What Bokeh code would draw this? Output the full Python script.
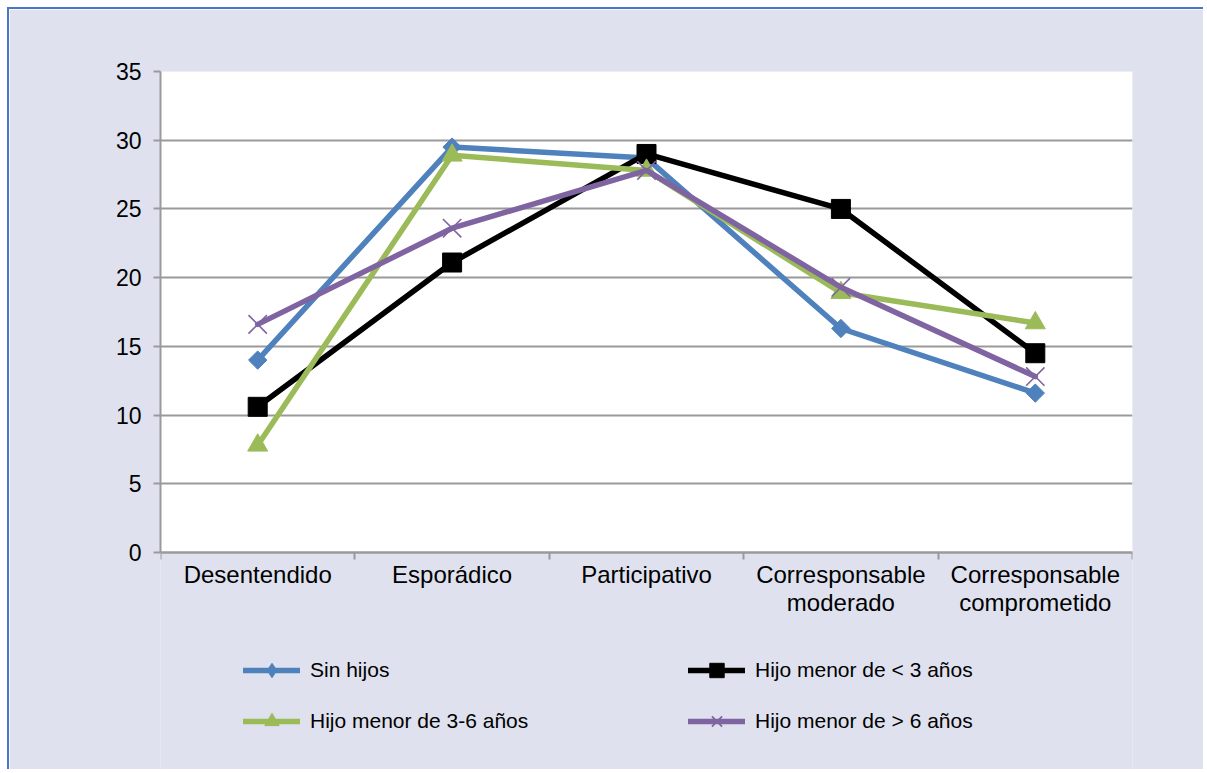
import math
from bokeh.plotting import figure
from bokeh.models import FixedTicker, Legend, LegendItem, Range1d, BoxAnnotation
from bokeh.embed import file_html
from bokeh.resources import INLINE

categories = ["Desentendido", "Esporádico", "Participativo",
              "Corresponsable\nmoderado", "Corresponsable\ncomprometido"]
sin_hijos = [14.0, 29.5, 28.7, 16.3, 11.6]
menor_3 = [10.6, 21.1, 29.0, 25.0, 14.5]
menor_3_6 = [7.8, 28.9, 27.8, 18.9, 16.7]
mayor_6 = [16.6, 23.6, 27.8, 19.3, 12.8]
series_names = ["Sin hijos", "Hijo menor de < 3 años",
                "Hijo menor de 3-6 años", "Hijo menor de > 6 años"]
y_ticks = [0, 5, 10, 15, 20, 25, 30, 35]

FONT = "Liberation Sans"
GREY = "#9a9a9a"
BG = "#dfe2ee"
EDGE = "#4a76c6"

n = len(categories)
x = [i + 0.5 for i in range(n)]
bounds = list(range(n + 1))
y_max = y_ticks[-1]

# frame runs from the top of the plot area down to the bottom of the canvas,
# so that the category labels and the legend sit inside it
H, TOP = 762, 62
PLOT_H = 481
frame_h = H - TOP
y_min = y_max - frame_h * y_max / PLOT_H

p = figure(width=1196, height=H,
           x_range=Range1d(0, n), y_range=Range1d(y_min, y_max),
           output_backend="svg", toolbar_location=None,
           min_border_left=151, min_border_right=73,
           min_border_top=TOP, min_border_bottom=0,
           styles={"margin-left": "7px", "margin-top": "7px",
                   "border-left": f"2px solid {EDGE}",
                   "border-top": f"2px solid {EDGE}"})
p.background_fill_color = BG
p.border_fill_color = BG
p.outline_line_color = None

p.add_layout(BoxAnnotation(left=0, right=n, bottom=0, top=y_max,
                           fill_color="white", fill_alpha=1,
                           line_color=None, level="image"))

p.xgrid.visible = False
p.ygrid.ticker = FixedTicker(ticks=y_ticks, minor_ticks=[])
p.ygrid.grid_line_color = GREY
p.ygrid.grid_line_width = 2

ya = p.yaxis[0]
ya.ticker = FixedTicker(ticks=y_ticks, minor_ticks=[])
ya.bounds = (0, y_max)
ya.axis_line_color = GREY
ya.axis_line_width = 2
ya.major_tick_line_color = GREY
ya.major_tick_line_width = 2
ya.major_tick_out = 7
ya.major_tick_in = 0
ya.minor_tick_line_color = None
ya.major_label_text_font = FONT
ya.major_label_text_font_size = "23px"
ya.major_label_text_color = "black"
ya.major_label_standoff = 12

xa = p.xaxis[0]
xa.fixed_location = 0
xa.ticker = FixedTicker(ticks=x, minor_ticks=bounds)
xa.major_label_overrides = {x[i]: categories[i] for i in range(n)}
xa.axis_line_color = GREY
xa.axis_line_width = 2
xa.major_tick_line_color = None
xa.major_tick_out = 0
xa.major_tick_in = 0
xa.minor_tick_line_color = GREY
xa.minor_tick_line_width = 2
xa.minor_tick_out = 7
xa.minor_tick_in = 0
xa.major_label_text_font = FONT
xa.major_label_text_font_size = "24px"
xa.major_label_text_color = "black"
xa.major_label_text_line_height = 1.05
xa.major_label_standoff = 1

# (values, colour, marker drawn on the chart, marker shown in the legend)
styles = [
    (sin_hijos, "#4f81bd",
     dict(marker="square", size=13, angle=math.pi / 4,
          fill_color="#4f81bd", line_color="#4f81bd"),
     dict(marker="diamond", fill_color="#4f81bd", line_color="#4f81bd")),
    (menor_3, "#000000",
     dict(marker="square", size=19, fill_color="#000000", line_color="#000000"),
     None),
    (menor_3_6, "#9bbb59",
     dict(marker="triangle", size=20, fill_color="#9bbb59", line_color="#9bbb59"),
     None),
    (mayor_6, "#8064a2",
     dict(marker="x", size=26, line_width=1.6, line_color="#8064a2"),
     dict(marker="x", line_width=1.8, line_color="#8064a2")),
]

items = []
for (vals, color, mk, legend_mk), name in zip(styles, series_names):
    lr = p.line(x, vals, line_color=color, line_width=5.5, line_cap="round",
                line_join="round")
    sr = p.scatter(x, vals, **mk)
    if legend_mk is not None:
        # same points, hidden on the chart: only gives the legend its symbol
        lm = p.scatter(x, vals, visible=False, **legend_mk)
        items.append(LegendItem(label=name, renderers=[lr, lm]))
    else:
        items.append(LegendItem(label=name, renderers=[lr, sr]))

legend = Legend(items=items, location=(83, 32), orientation="horizontal",
                ncols=2, glyph_width=57, glyph_height=36, label_height=36,
                label_width=363, label_standoff=10, spacing=15, padding=0,
                margin=0, background_fill_alpha=0, border_line_color=None,
                label_text_font=FONT, label_text_font_size="21px",
                label_text_color="black")
p.add_layout(legend)

open("out.html", "w").write(file_html(p, INLINE))
